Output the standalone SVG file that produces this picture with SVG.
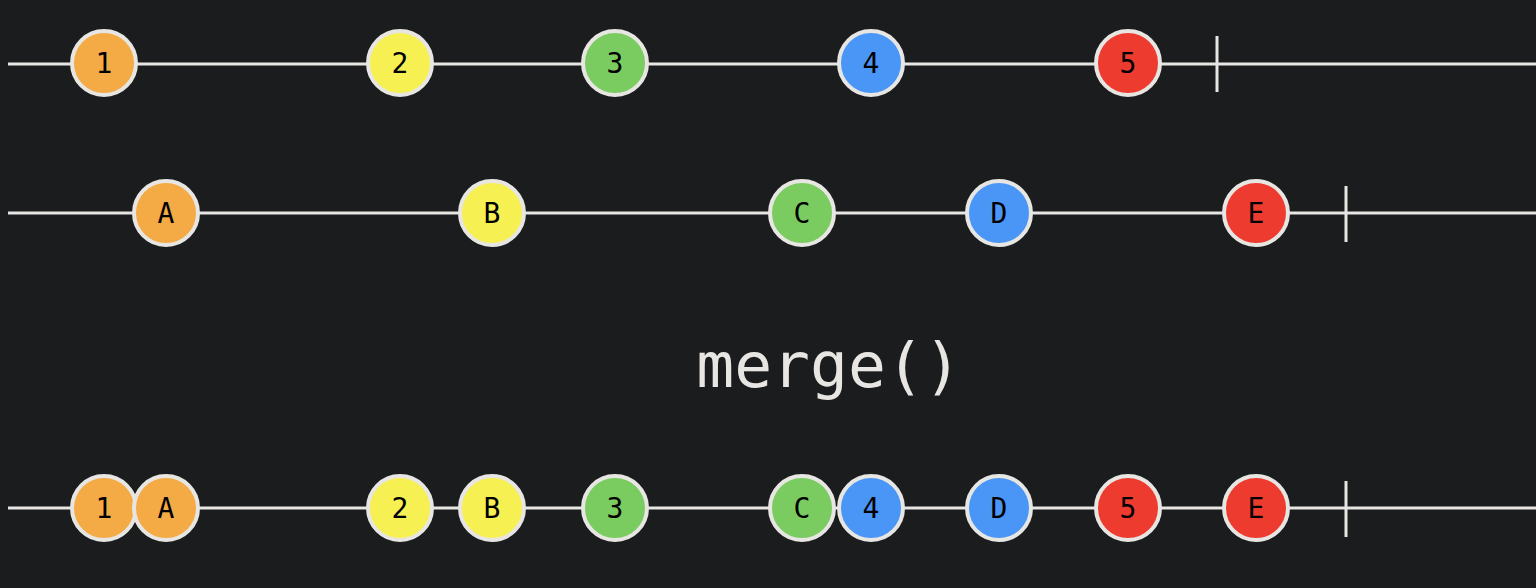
<svg xmlns="http://www.w3.org/2000/svg" width="1536" height="588" viewBox="0 0 1536 588">
<style>
.bg{fill:#1b1c1e}
.tl{stroke:#e8e6e3;stroke-width:3;fill:none}
.tk{stroke:#e8e6e3;stroke-width:3}
.m circle{stroke:#e8e6e3;stroke-width:4}
.m text{font-family:"DejaVu Sans Mono","Liberation Mono",monospace;font-size:28px;fill:#000;text-anchor:middle;dominant-baseline:central}
.o{fill:#f4aa45}.y{fill:#f7f052}.g{fill:#7acc60}.b{fill:#4a96f7}.r{fill:#ee3b30}
.op{font-family:"DejaVu Sans Mono","Liberation Mono",monospace;font-size:63px;fill:#e8e6e3;text-anchor:middle}
</style>
<rect class="bg" x="0" y="0" width="1536" height="588"/>
<g id="connectors">
<line class="tl" x1="8" y1="64" x2="1536" y2="64"/>
<line class="tk" x1="1217" y1="36" x2="1217" y2="92"/>
<line class="tl" x1="8" y1="213" x2="1536" y2="213"/>
<line class="tk" x1="1346" y1="186" x2="1346" y2="242"/>
<line class="tl" x1="8" y1="508" x2="1536" y2="508"/>
<line class="tk" x1="1346" y1="481" x2="1346" y2="537"/>
</g>
<g id="top-1" class="m"><circle class="o" cx="104" cy="63" r="32"/><text x="104" y="63">1</text></g>
<g id="top-2" class="m"><circle class="y" cx="400" cy="63" r="32"/><text x="400" y="63">2</text></g>
<g id="top-3" class="m"><circle class="g" cx="615" cy="63" r="32"/><text x="615" y="63">3</text></g>
<g id="top-4" class="m"><circle class="b" cx="871" cy="63" r="32"/><text x="871" y="63">4</text></g>
<g id="top-5" class="m"><circle class="r" cx="1128" cy="63" r="32"/><text x="1128" y="63">5</text></g>
<g id="mid-A" class="m"><circle class="o" cx="166" cy="213" r="32"/><text x="166" y="213">A</text></g>
<g id="mid-B" class="m"><circle class="y" cx="492" cy="213" r="32"/><text x="492" y="213">B</text></g>
<g id="mid-C" class="m"><circle class="g" cx="802" cy="213" r="32"/><text x="802" y="213">C</text></g>
<g id="mid-D" class="m"><circle class="b" cx="999" cy="213" r="32"/><text x="999" y="213">D</text></g>
<g id="mid-E" class="m"><circle class="r" cx="1256" cy="213" r="32"/><text x="1256" y="213">E</text></g>
<g id="operator"><text class="op" x="829" y="387">merge()</text></g>
<g id="out-1" class="m"><circle class="o" cx="104" cy="508" r="32"/><text x="104" y="508">1</text></g>
<g id="out-A" class="m"><circle class="o" cx="166" cy="508" r="32"/><text x="166" y="508">A</text></g>
<g id="out-2" class="m"><circle class="y" cx="400" cy="508" r="32"/><text x="400" y="508">2</text></g>
<g id="out-B" class="m"><circle class="y" cx="492" cy="508" r="32"/><text x="492" y="508">B</text></g>
<g id="out-3" class="m"><circle class="g" cx="615" cy="508" r="32"/><text x="615" y="508">3</text></g>
<g id="out-C" class="m"><circle class="g" cx="802" cy="508" r="32"/><text x="802" y="508">C</text></g>
<g id="out-4" class="m"><circle class="b" cx="871" cy="508" r="32"/><text x="871" y="508">4</text></g>
<g id="out-D" class="m"><circle class="b" cx="999" cy="508" r="32"/><text x="999" y="508">D</text></g>
<g id="out-5" class="m"><circle class="r" cx="1128" cy="508" r="32"/><text x="1128" y="508">5</text></g>
<g id="out-E" class="m"><circle class="r" cx="1256" cy="508" r="32"/><text x="1256" y="508">E</text></g>
</svg>
